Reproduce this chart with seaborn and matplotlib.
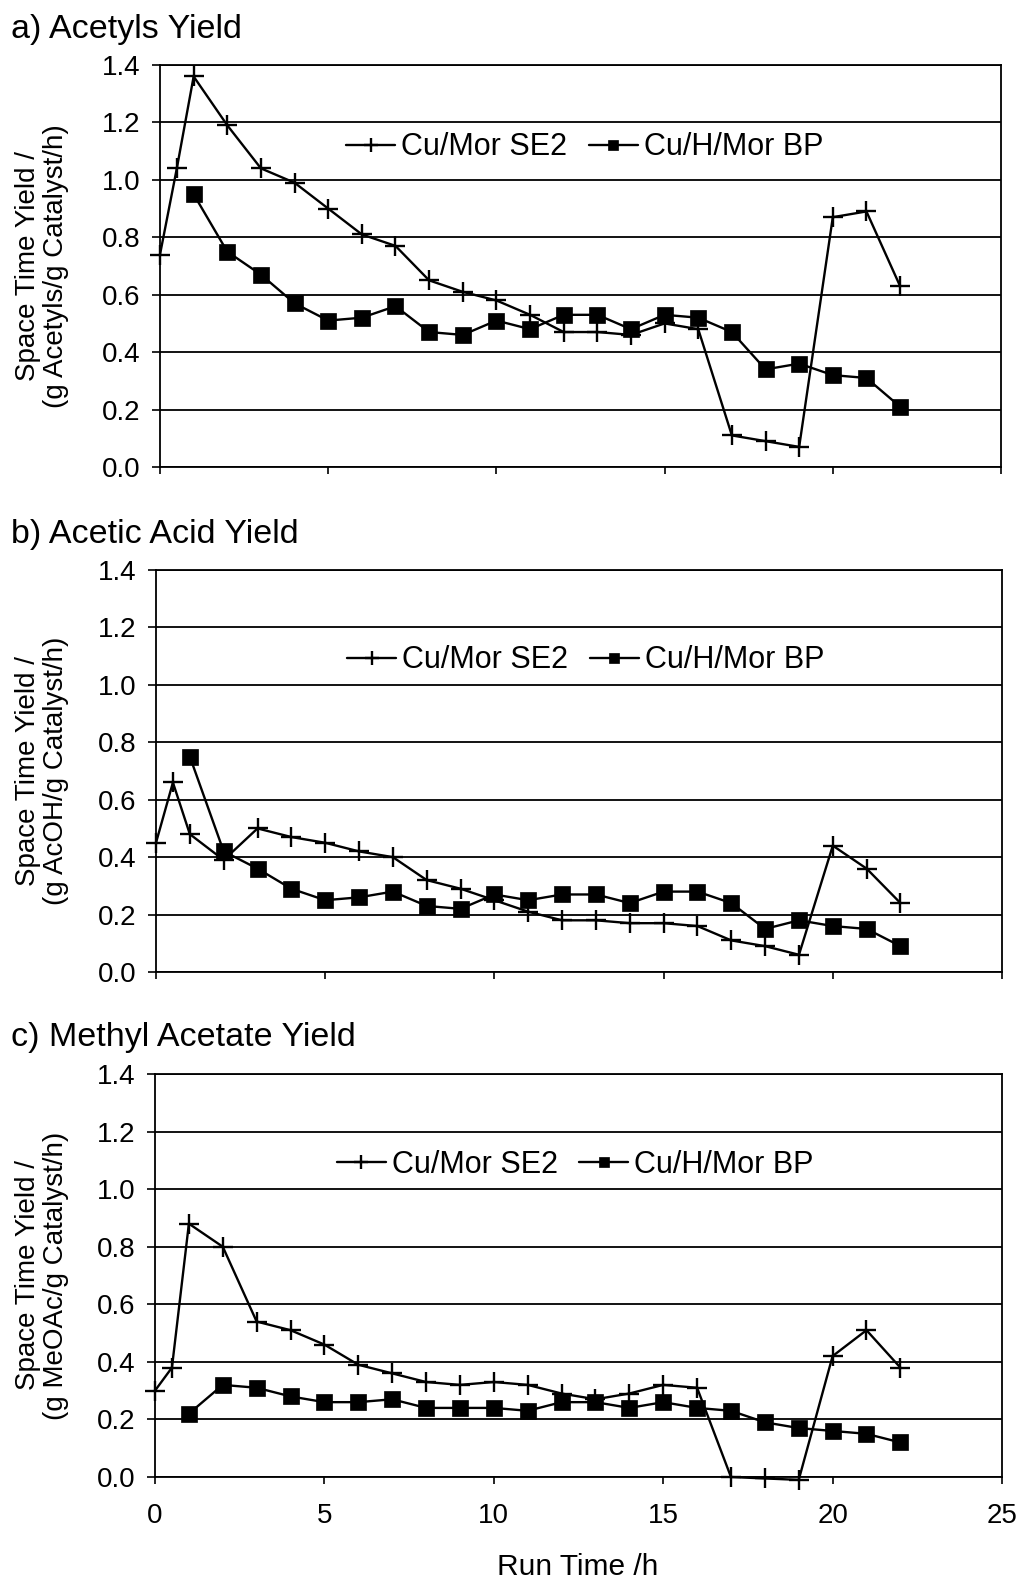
import matplotlib
matplotlib.use("Agg")
import matplotlib.pyplot as plt
import seaborn as sns

# Run times (h)
time_se2 = [0, 0.5, 1, 2, 3, 4, 5, 6, 7, 8, 9, 10, 11, 12, 13, 14, 15, 16, 17, 18, 19, 20, 21, 22]
time_bp = [1, 2, 3, 4, 5, 6, 7, 8, 9, 10, 11, 12, 13, 14, 15, 16, 17, 18, 19, 20, 21, 22]

# a) Acetyls space time yield
acetyls_se2 = [0.74, 1.04, 1.36, 1.19, 1.04, 0.99, 0.90, 0.81, 0.77, 0.65, 0.61, 0.58,
               0.53, 0.47, 0.47, 0.46, 0.50, 0.48, 0.11, 0.09, 0.07, 0.87, 0.89, 0.63]
acetyls_bp = [0.95, 0.75, 0.67, 0.57, 0.51, 0.52, 0.56, 0.47, 0.46, 0.51, 0.48,
              0.53, 0.53, 0.48, 0.53, 0.52, 0.47, 0.34, 0.36, 0.32, 0.31, 0.21]

# b) Acetic acid space time yield
acetic_se2 = [0.45, 0.66, 0.48, 0.39, 0.50, 0.47, 0.45, 0.42, 0.40, 0.32, 0.29, 0.25,
              0.21, 0.18, 0.18, 0.17, 0.17, 0.16, 0.11, 0.09, 0.06, 0.44, 0.36, 0.24]
acetic_bp = [0.75, 0.42, 0.36, 0.29, 0.25, 0.26, 0.28, 0.23, 0.22, 0.27, 0.25,
             0.27, 0.27, 0.24, 0.28, 0.28, 0.24, 0.15, 0.18, 0.16, 0.15, 0.09]

# c) Methyl acetate space time yield
meoac_se2 = [0.30, 0.38, 0.88, 0.80, 0.54, 0.51, 0.46, 0.39, 0.36, 0.33, 0.32, 0.33,
             0.32, 0.29, 0.27, 0.29, 0.32, 0.31, 0.00, -0.005, -0.01, 0.42, 0.51, 0.38]
meoac_bp = [0.22, 0.32, 0.31, 0.28, 0.26, 0.26, 0.27, 0.24, 0.24, 0.24, 0.23,
            0.26, 0.26, 0.24, 0.26, 0.24, 0.23, 0.19, 0.17, 0.16, 0.15, 0.12]

series_names = ["Cu/Mor SE2", "Cu/H/Mor BP"]
panel_titles = ["a) Acetyls Yield", "b) Acetic Acid Yield", "c) Methyl Acetate Yield"]
ylabel_units = ["(g Acetyls/g Catalyst/h)", "(g AcOH/g Catalyst/h)", "(g MeOAc/g Catalyst/h)"]
x_label = "Run Time /h"
y_ticks = [0.0, 0.2, 0.4, 0.6, 0.8, 1.0, 1.2, 1.4]
x_ticks = [0, 5, 10, 15, 20, 25]

sns.set_theme(style="white")
plt.rcParams["font.family"] = ["Liberation Sans", "DejaVu Sans"]

W, H = 1021, 1581
fig = plt.figure(figsize=(W / 100, H / 100), dpi=100)
fig.patch.set_facecolor("white")

# axes boxes in pixels: left, right, top, bottom
boxes = [(160, 1001, 65, 467), (156, 1002, 570, 972), (155, 1002, 1074, 1477)]
legend_pos = [(0.505, 0.795), (0.508, 0.775), (0.496, 0.775)]
title_base = [38, 543, 1046]

panels = [(acetyls_se2, acetyls_bp), (acetic_se2, acetic_bp), (meoac_se2, meoac_bp)]

for i, ((se2, bp), (l, r, t, b)) in enumerate(zip(panels, boxes)):
    ax = fig.add_axes([l / W, 1 - b / H, (r - l) / W, (b - t) / H])
    ax.set_facecolor("white")
    ax.set_xlim(0, 25)
    ax.set_ylim(0, 1.4)
    ax.set_yticks(y_ticks)
    ax.set_yticklabels([f"{v:.1f}" for v in y_ticks])
    ax.set_xticks(x_ticks)
    ax.yaxis.grid(True, color="black", linewidth=1.3)
    ax.xaxis.grid(False)
    ax.set_axisbelow(True)
    for sp in ax.spines.values():
        sp.set_color("black")
        sp.set_linewidth(1.3)
    ax.tick_params(axis="y", direction="out", length=6, width=1.2, color="black",
                   labelsize=20, pad=8, left=True, labelcolor="black")
    ax.tick_params(axis="x", direction="out", length=5, width=1.2, color="black",
                   labelsize=20, pad=14, bottom=True, labelcolor="black")
    if i < 2:
        ax.set_xticklabels([])

    sns.lineplot(x=time_se2, y=se2, ax=ax, color="black", marker="+", markersize=15,
                 markeredgewidth=1.7, markeredgecolor="black", linewidth=1.7,
                 label=series_names[0], clip_on=False)
    sns.lineplot(x=time_bp, y=bp, ax=ax, color="black", marker="s", markersize=11,
                 markeredgewidth=0.5, markeredgecolor="black", markerfacecolor="black",
                 linewidth=1.7, label=series_names[1], clip_on=False)

    ax.set_xlabel("")
    ax.set_ylabel("")
    leg = ax.legend(loc="center", bbox_to_anchor=legend_pos[i], ncol=2, frameon=False,
                    fontsize=22, handlelength=1.6, handletextpad=0.2, columnspacing=0.7,
                    markerscale=0.65)
    for txt in leg.get_texts():
        txt.set_color("black")

    fig.text(11 / W, 1 - title_base[i] / H, panel_titles[i], fontsize=24.5,
             ha="left", va="baseline", color="black")
    fig.text(42 / W, 1 - ((t + b) / 2) / H, "Space Time Yield /\n" + ylabel_units[i],
             rotation=90, ha="center", va="center", multialignment="center",
             fontsize=20, linespacing=1.1, color="black")

fig.text(578 / W, 1 - 1567 / H, x_label, fontsize=21.5, ha="center", va="center", color="black")

fig.savefig("out.png", dpi=100, facecolor="white")
